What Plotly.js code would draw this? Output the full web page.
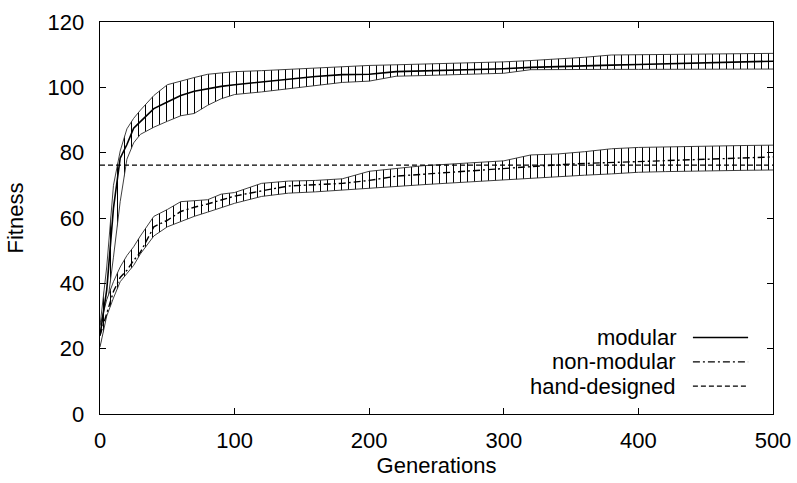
<!DOCTYPE html>
<html>
<head>
<meta charset="utf-8">
<script src="https://cdn.plot.ly/plotly-3.0.1.min.js"></script>
<style>html,body{margin:0;padding:0;background:#fff;}#chart{width:797px;height:483px;}</style>
</head>
<body>
<div id="chart"></div>
<script>
// Generations
const generations = [0,5,10,15,20,25,30,40,50,60,70,80,90,100,120,140,160,180,200,220,240,260,280,300,320,340,360,380,400,420,440,460,480,500];

// Modular: mean and band bounds
const modularMean  = [24,38,63,78.3,82.5,87.5,89.5,93.5,95.5,97.5,98.8,99.6,100.3,100.8,101.7,102.6,103.3,103.9,104.0,104.8,105.0,105.2,105.6,105.7,106.1,106.4,106.6,106.8,107.0,107.2,107.4,107.6,107.8,108.0];
const modularUpper = [27,45,70,80.5,87.3,90.5,93,97.5,100.8,102,103,104,104.5,104.8,105.1,105.5,106,106.5,106.7,106.9,107.1,107.3,107.4,107.8,108.2,108.6,109.2,109.9,110,110,110,110.1,110.3,110.4];
const modularLower = [21,32,48,65,78,83,85.6,87.8,89.6,91.3,92,94.5,96.5,97.8,98.6,99.6,100.6,101.5,101.9,103.4,103.6,103.8,104.1,104.3,105.4,105.5,105.5,105.5,105.5,105.5,105.6,105.6,105.6,105.6];

// Non-modular: mean and band bounds
const nonModularMean  = [24,31,37.5,41.8,44,47,49.5,57.3,59.3,62,63.3,64.3,65.5,66.7,68.3,69.8,70.2,70.6,71.5,72.8,73.4,74,74.6,75.2,75.9,76.3,76.7,77,77.3,77.5,77.8,78.1,78.4,78.7];
const nonModularUpper = [27,35,40.5,45,48.5,51.2,54.5,60.5,62.6,65,65.3,65.6,67.3,67.8,70.6,71.3,71.5,72,74.3,75.1,76,76.5,76.9,77.5,79.3,79.6,80.3,81.2,81.6,81.8,82,82.1,82.2,82.3];
const nonModularLower = [20.5,30,35.5,40.5,43,45.5,49,54.5,57.3,59,60.5,61.8,63.2,64.5,66.6,67.6,68,68.6,69.1,69.7,70.2,70.7,71.2,71.7,72.3,72.7,73.1,73.5,74,74.2,74.4,74.5,74.6,74.7];

// Hand-designed reference
const handDesignedValue = 76.2;
const xRange = [0, 500];

const seriesNames = ['modular', 'non-modular', 'hand-designed'];
const xTicks = [0,100,200,300,400,500];
const yTicks = [0,20,40,60,80,100,120];

const FONT = 'Liberation Sans, Arial, Helvetica, sans-serif';
const FS = 22;
const boundLine = {color: '#2a2a2a', width: 0.9};
const hatch = {shape: '|', size: 7, solidity: 0.15, fgcolor: '#000', bgcolor: '#fff', fillmode: 'replace'};

const traces = [
  {x: generations, y: modularLower, mode: 'lines', line: boundLine, showlegend: false, hoverinfo: 'skip'},
  {x: generations, y: modularUpper, mode: 'lines', line: boundLine, fill: 'tonexty', fillcolor: '#fff', fillpattern: hatch, showlegend: false, hoverinfo: 'skip'},
  {x: generations, y: nonModularLower, mode: 'lines', line: boundLine, showlegend: false, hoverinfo: 'skip'},
  {x: generations, y: nonModularUpper, mode: 'lines', line: boundLine, fill: 'tonexty', fillcolor: '#fff', fillpattern: hatch, showlegend: false, hoverinfo: 'skip'},
  {x: generations, y: modularMean, mode: 'lines', name: seriesNames[0], line: {color: '#000', width: 1.6}, showlegend: false},
  {x: generations, y: nonModularMean, mode: 'lines', name: seriesNames[1], line: {color: '#000', width: 1.4, dash: '7px,3px,2px,3px'}, showlegend: false},
  {x: xRange, y: [handDesignedValue, handDesignedValue], mode: 'lines', name: seriesNames[2], line: {color: '#000', width: 1.2, dash: '5px,3px'}, showlegend: false}
];

// manual gnuplot-style legend (text right-aligned, sample on right)
const legendY = [0.195, 0.133, 0.071];
const legendDash = ['solid', '7px,3px,2px,3px', '5px,3px'];
const annotations = seriesNames.map((n, i) => ({
  xref: 'paper', yref: 'paper', x: 0.859, y: legendY[i], xanchor: 'right', yanchor: 'middle',
  text: n, showarrow: false, font: {family: FONT, size: FS, color: '#000'}
}));
const shapes = seriesNames.map((n, i) => ({
  type: 'line', xref: 'paper', yref: 'paper', x0: 0.881, x1: 0.963, y0: legendY[i], y1: legendY[i],
  line: {color: '#000', width: i === 0 ? 1.6 : 1.2, dash: legendDash[i]}
}));

const axisCommon = {
  showgrid: false, zeroline: false, showline: true, linecolor: '#000', linewidth: 1.3, mirror: 'ticks',
  ticks: 'inside', ticklen: 6, tickwidth: 1, tickcolor: '#000',
  tickfont: {family: FONT, size: FS, color: '#000'}
};

const layout = {
  width: 797, height: 483,
  margin: {l: 100, r: 24, t: 22, b: 69},
  paper_bgcolor: '#fff', plot_bgcolor: '#fff',
  showlegend: false,
  xaxis: Object.assign({}, axisCommon, {range: xRange, tickvals: xTicks, ticktext: xTicks.map(String), ticklabelstandoff: 6,
    title: {text: 'Generations', font: {family: FONT, size: FS, color: '#000'}, standoff: 6}}),
  yaxis: Object.assign({}, axisCommon, {range: [0, 120], tickvals: yTicks, ticktext: yTicks.map(String), ticklabelstandoff: 10,
    title: {text: 'Fitness', font: {family: FONT, size: FS, color: '#000'}, standoff: 18}}),
  annotations: annotations,
  shapes: shapes
};

Plotly.newPlot('chart', traces, layout, {staticPlot: true, displayModeBar: false});
</script>
</body>
</html>
